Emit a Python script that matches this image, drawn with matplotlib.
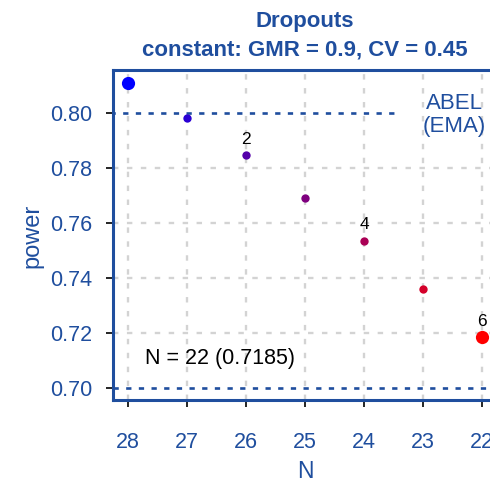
import matplotlib
matplotlib.use("Agg")
import matplotlib.pyplot as plt

# Data
n_subjects = [28, 27, 26, 25, 24, 23, 22]
power = [0.8109, 0.7982, 0.7847, 0.7691, 0.7535, 0.7360, 0.7185]
dropout_labels = {26: "2", 24: "4", 22: "6"}
y_ticks = [0.70, 0.72, 0.74, 0.76, 0.78, 0.80]
target_power = 0.80
min_power = 0.70

plt.rcParams["font.family"] = ["Liberation Sans", "DejaVu Sans"]

blue = "#1F4E9E"
point_colors = ["#0000FF", "#2A00D4", "#5500AA", "#7F007F", "#AA0055", "#D4002A", "#FF0000"]

fig = plt.figure(figsize=(4.9, 4.84), dpi=100)
ax = fig.add_axes([113 / 490, 1 - 400 / 484, (496 - 113) / 490, (400 - 70) / 484])

# Grid
for n in n_subjects:
    ax.axvline(n, color="#D3D3D3", lw=1.7, ls=(0, (2.3, 3.6)), zorder=0)
for y in y_ticks[1:-1]:
    ax.axhline(y, color="#D3D3D3", lw=1.7, ls=(0, (2.3, 3.6)), zorder=0)

# Reference lines
ax.plot([28.3, 23.39], [target_power, target_power], color=blue, lw=1.9,
        ls=(0, (2, 2.8)), zorder=1)
ax.axhline(min_power, color=blue, lw=1.9, ls=(0, (2, 2.8)), zorder=1)

# Points
for i, (n, p) in enumerate(zip(n_subjects, power)):
    big = i == 0 or i == len(n_subjects) - 1
    ax.plot(n, p, "o", color=point_colors[i], ms=9.5 if big else 6,
            mec="none", zorder=3)
    if n in dropout_labels:
        ax.annotate(dropout_labels[n], (n, p), xytext=(0, 6),
                    textcoords="offset points", ha="center", va="bottom",
                    fontsize=12.5, color="black")

ax.text(27.71, 0.7109, f"N = {n_subjects[-1]} ({power[-1]:.4f})",
        ha="left", va="center", fontsize=15.5, color="black")
ax.text(22.47, 0.7993, "ABEL\n(EMA)", ha="center", va="center",
        fontsize=16, color=blue, linespacing=1.15)

ax.set_xlim(28.254, 21.763)
ax.set_ylim(0.69564, 0.8156)
ax.set_xticks(n_subjects)
ax.set_yticks(y_ticks)
ax.set_yticklabels([f"{v:.2f}" for v in y_ticks])

for side in ("left", "top", "bottom", "right"):
    ax.spines[side].set_color(blue)
    ax.spines[side].set_linewidth(2.2)
ax.tick_params(axis="both", colors="black", labelcolor=blue, labelsize=15.5,
               length=5, width=1.2)
ax.tick_params(axis="x", pad=18)
ax.tick_params(axis="y", pad=10)

# Labels and title
fig.text(32 / 490, 1 - 236 / 484, "power", rotation=90, ha="center",
         va="center", fontsize=17, color=blue)
fig.text(305 / 490, 1 - 472 / 484, "N", ha="center", va="center",
         fontsize=16.5, color=blue)
fig.text(305 / 490, 1 - 22 / 484, "Dropouts", ha="center", va="center",
         fontsize=16, fontweight="bold", color=blue)
fig.text(305 / 490, 1 - 50 / 484, "constant: GMR = 0.9, CV = 0.45",
         ha="center", va="center", fontsize=16, fontweight="bold", color=blue)

fig.savefig("out.png", dpi=100)
